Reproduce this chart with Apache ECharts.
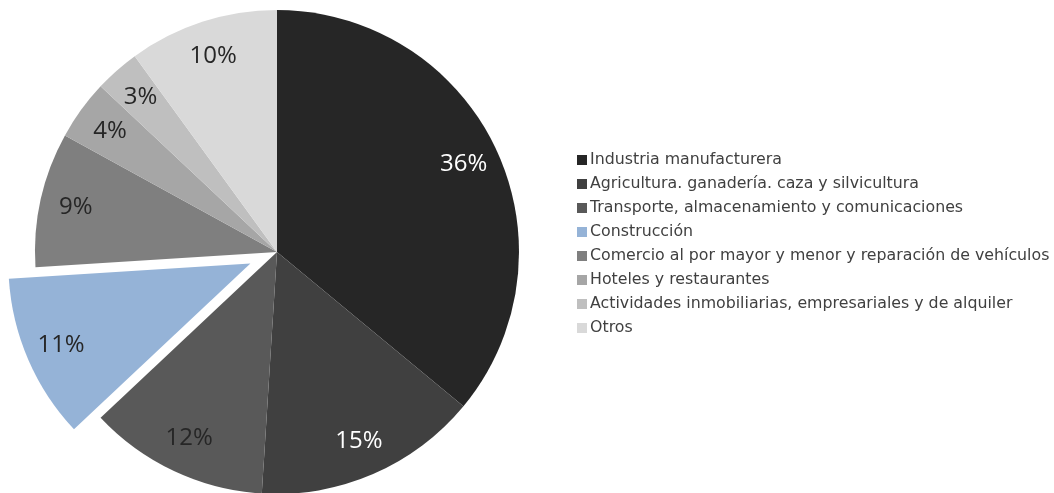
<!DOCTYPE html>
<html><head><meta charset="utf-8">
<script src="https://cdn.jsdelivr.net/npm/echarts@6/dist/echarts.min.js"></script>
<style>html,body{margin:0;padding:0;background:#fff}#c{width:1054px;height:493px}</style>
</head><body><div id="c"></div>
<script>
const categories = ["Industria manufacturera","Agricultura. ganadería. caza y silvicultura","Transporte, almacenamiento y comunicaciones","Construcción","Comercio al por mayor y menor y reparación de vehículos","Hoteles y restaurantes","Actividades inmobiliarias, empresariales y de alquiler","Otros"];
const values = [36,15,12,11,9,4,3,10];
const colors = ["#262626","#404040","#595959","#95b3d7","#7f7f7f","#a6a6a6","#bfbfbf","#d9d9d9"];
const labelColors = ["#ffffff","#ffffff","#262626","#262626","#262626","#262626","#262626","#262626"];
const explodedIndex = 3;

const chart = echarts.init(document.getElementById('c'));
const center = [277, 252];
const R = 242;
const mainData = categories.map((n,i)=>({name:n,value:values[i],selected:i===explodedIndex,itemStyle:{color:colors[i]}}));
const labelData = categories.map((n,i)=>({name:n,value:values[i],selected:i===explodedIndex,
  itemStyle:{color:'rgba(0,0,0,0)'},
  label:{color:labelColors[i]}}));
chart.setOption({
  animation:false,
  legend:{orient:'vertical',left:572,top:146,itemWidth:10,itemHeight:10,itemGap:6,
    icon:'rect',data:categories,
    textStyle:{fontFamily:'DejaVu Sans, sans-serif',fontSize:15.8,color:'#404040',padding:[0,0,0,-2],lineHeight:18}},
  series:[
    {type:'pie',center:center,radius:[0,R],startAngle:90,clockwise:true,
     selectedMode:'single',selectedOffset:29,silent:true,
     label:{show:false},labelLine:{show:false},
     itemStyle:{borderWidth:0},
     emphasis:{disabled:true},
     data:mainData},
    {type:'pie',center:center,radius:[R*0.68,R],startAngle:90,clockwise:true,
     selectedMode:'single',selectedOffset:29,silent:true,legendHoverLink:false,
     label:{show:true,position:'inside',formatter:'{c}%',fontFamily:'Open Sans, sans-serif',fontSize:24},
     labelLine:{show:false},
     emphasis:{disabled:true},
     data:labelData}
  ]
});
</script></body></html>
